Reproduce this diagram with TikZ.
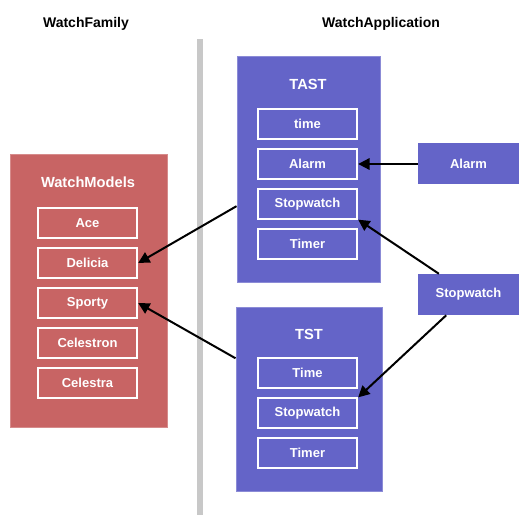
\documentclass[tikz,border=0pt]{standalone}
\usepackage{fontspec}
\setmainfont{Liberation Sans}
\usetikzlibrary{arrows.meta}
\definecolor{modelred}{RGB}{200,100,100}
\definecolor{appblue}{RGB}{100,100,200}
\definecolor{bargray}{RGB}{200,200,200}
\tikzset{
    heading/.style={font=\fontsize{10.5}{12}\selectfont\bfseries, inner sep=0pt},
    title/.style={font=\fontsize{11}{13}\selectfont\bfseries, inner sep=0pt, text=white},
    itembox/.style={draw=white, line width=1.5pt, text=white, inner sep=0pt,
        minimum width=74.5pt, minimum height=22pt, font=\fontsize{9.75}{11}\selectfont\bfseries},
    groupbox/.style={fill=#1, draw=#1!75!white, line width=0.75pt, inner sep=0pt},
    extbox/.style={fill=appblue, text=white, inner sep=0pt, minimum width=75.75pt,
        minimum height=30.75pt, font=\fontsize{9.75}{11}\selectfont\bfseries},
    link/.style={black, line width=1.5pt, -{Triangle[length=8.5pt, width=8.5pt]}}
}
\begin{document}
\begin{tikzpicture}[x=0.75pt, y=-0.75pt]
    \useasboundingbox (0,0) rectangle (530,530);
    % headings and divider
    \node[heading] (family) at (86,24) {WatchFamily};
    \node[heading] (application) at (381,24) {WatchApplication};
    \fill[bargray] (197,39) rectangle (203,515);
    % group boxes
    \node[groupbox=modelred, minimum width=117.75pt, minimum height=204pt] (models) at (88.5,291) {};
    \node[groupbox=appblue, minimum width=107.25pt, minimum height=168.75pt] (tast) at (308.5,169.5) {};
    \node[groupbox=appblue, minimum width=109.5pt, minimum height=138pt] (tst) at (309,399) {};
    \node[title] (modelstitle) at (88,182) {WatchModels};
    \node[title] (tasttitle) at (308,84) {TAST};
    \node[title] (tsttitle) at (309,334) {TST};
    % items
    \foreach \i/\y/\t in {1/223/Ace, 2/263/Delicia, 3/303/Sporty, 4/343/Celestron, 5/383/Celestra} {
            \node[itembox] (m\i) at (87.5,\y) {\t};
        }
    \foreach \i/\y/\t in {1/124/time, 2/164/Alarm, 3/204/Stopwatch, 4/244/Timer} {
            \node[itembox] (a\i) at (307.5,\y) {\t};
        }
    \foreach \i/\y/\t in {1/373/Time, 2/413/Stopwatch, 3/453/Timer} {
            \node[itembox] (s\i) at (307.5,\y) {\t};
        }
    % external features
    \node[extbox] (alarm) at (468.5,164) {Alarm};
    \node[extbox] (stopwatch) at (468.5,294.5) {Stopwatch};
    % links
    \draw[link] (tast.207.7) -- (m2.east);
    \draw[link] (tst.151.9) -- (m3.east);
    \draw[link] (alarm.west) -- (a2.east);
    \draw[link] (stopwatch.145.2) -- (a3.south east);
    \draw[link] (stopwatch.223.6) -- (s2.north east);
\end{tikzpicture}
\end{document}
